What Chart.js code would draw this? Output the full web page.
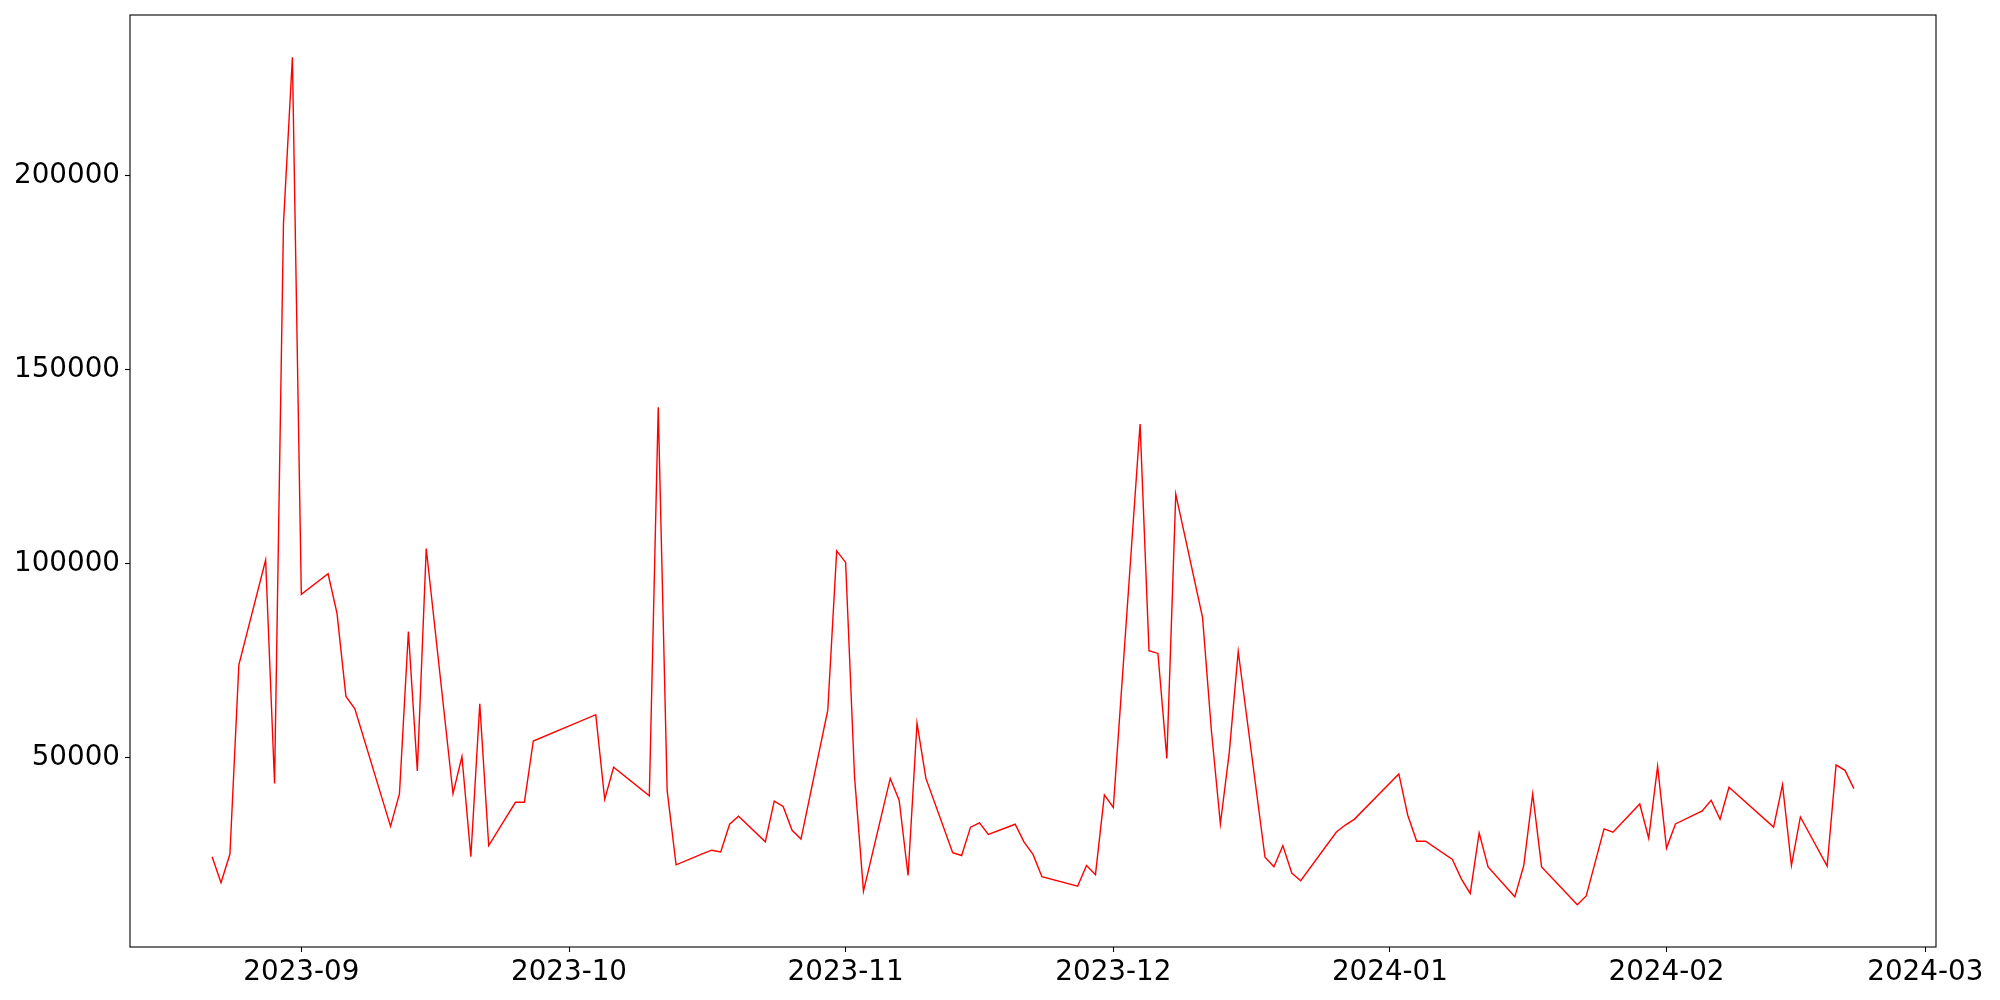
<!DOCTYPE html>
<html>
<head>
<meta charset="utf-8">
<script src="https://cdn.jsdelivr.net/npm/chart.js@4"></script>
<style>
    body { margin: 0; background: #fff; }
</style>
</head>
<body>
<canvas id="myChart" width="2000" height="1000"></canvas>
<script>
    // Data-----
    const dates = [
        '2023-08-22', '2023-08-23', '2023-08-24', '2023-08-25', '2023-08-28', '2023-08-29', '2023-08-30', '2023-08-31',
        '2023-09-01', '2023-09-04', '2023-09-05', '2023-09-06', '2023-09-07', '2023-09-11', '2023-09-12', '2023-09-13',
        '2023-09-14', '2023-09-15', '2023-09-18', '2023-09-19', '2023-09-20', '2023-09-21', '2023-09-22', '2023-09-25',
        '2023-09-26', '2023-09-27', '2023-10-04', '2023-10-05', '2023-10-06', '2023-10-10', '2023-10-11', '2023-10-12',
        '2023-10-13', '2023-10-16', '2023-10-17', '2023-10-18', '2023-10-19', '2023-10-20', '2023-10-23', '2023-10-24',
        '2023-10-25', '2023-10-26', '2023-10-27', '2023-10-30', '2023-10-31', '2023-11-01', '2023-11-02', '2023-11-03',
        '2023-11-06', '2023-11-07', '2023-11-08', '2023-11-09', '2023-11-10', '2023-11-13', '2023-11-14', '2023-11-15',
        '2023-11-16', '2023-11-17', '2023-11-20', '2023-11-21', '2023-11-22', '2023-11-23', '2023-11-27', '2023-11-28',
        '2023-11-29', '2023-11-30', '2023-12-01', '2023-12-04', '2023-12-05', '2023-12-06', '2023-12-07', '2023-12-08',
        '2023-12-11', '2023-12-12', '2023-12-13', '2023-12-14', '2023-12-15', '2023-12-18', '2023-12-19', '2023-12-20',
        '2023-12-21', '2023-12-22', '2023-12-26', '2023-12-27', '2023-12-28', '2024-01-02', '2024-01-03', '2024-01-04',
        '2024-01-05', '2024-01-08', '2024-01-09', '2024-01-10', '2024-01-11', '2024-01-12', '2024-01-15', '2024-01-16',
        '2024-01-17', '2024-01-18', '2024-01-22', '2024-01-23', '2024-01-25', '2024-01-26', '2024-01-29', '2024-01-30',
        '2024-01-31', '2024-02-01', '2024-02-02', '2024-02-05', '2024-02-06', '2024-02-07', '2024-02-08', '2024-02-13',
        '2024-02-14', '2024-02-15', '2024-02-16', '2024-02-19', '2024-02-20', '2024-02-21', '2024-02-22'
    ];

    const values = [
        24450, 17780, 25170, 73930, 100950, 43340, 187670, 230500,
        92100, 97400, 87200, 65800, 62600, 32300, 40700, 82500,
        46600, 103900, 40700, 50300, 24450, 63900, 27350, 38500,
        38500, 54300, 61070, 39250, 47530, 40150, 140300, 41500,
        22370, 25250, 26150, 25690, 32840, 34900, 28310, 38780,
        37420, 31290, 29030, 62250, 103300, 100330, 45080, 15590,
        44650, 39040, 19630, 58900, 44650, 25500, 24780, 32090,
        33190, 30210, 32840, 28230, 25060, 19330, 16870, 22200,
        19850, 40400, 37160, 136000, 77590, 76870, 49800, 117930,
        86150, 56820, 32910, 51420, 77400, 24340, 21900, 27330,
        20280, 18300, 30830, 32630, 34100, 45800, 35160, 28470,
        28470, 23750, 18760, 15000, 30600, 21850, 14130, 22210,
        40630, 21850, 12120, 14350, 31630, 30780, 38070, 29240,
        47760, 26690, 32910, 36280, 39020, 34130, 42370, 32110,
        43050, 22210, 34720, 22030, 48100, 46730, 42020
    ];

    const monthTicks = ['2023-09-01', '2023-10-01', '2023-11-01', '2023-12-01', '2024-01-01', '2024-02-01', '2024-03-01'];
    const tickLabels = ['2023-09', '2023-10', '2023-11', '2023-12', '2024-01', '2024-02', '2024-03'];
    const yTicks = [50000, 100000, 150000, 200000];
    // Data-----

    const toDay = (s) => {
        const p = s.split('-').map(Number);
        return Date.UTC(p[0], p[1] - 1, p[2]) / 86400000;
    };

    const points = dates.map((d, i) => ({x: toDay(d), y: values[i]}));

    // axis limits with a 5% margin, like the original
    const xs = points.map(p => p.x);
    const xMin0 = Math.min(...xs), xMax0 = Math.max(...xs);
    const yMin0 = Math.min(...values), yMax0 = Math.max(...values);
    const xPad = (xMax0 - xMin0) * 0.05;
    const yPad = (yMax0 - yMin0) * 0.05;

    const tickDays = monthTicks.map(toDay);
    const font = {family: 'DejaVu Sans', size: 27.78};

    const tickGrid = {
        display: true,
        drawOnChartArea: false,
        drawTicks: true,
        tickLength: 5,
        tickWidth: 1.1,
        tickColor: '#000'
    };

    // no extra room for the end labels, the layout padding decides
    const noPad = (scale) => {
        scale.paddingTop = 0;
        scale.paddingBottom = 0;
        scale.paddingLeft = 0;
        scale.paddingRight = 0;
    };

    // Frame-----
    const frame = {
        id: 'frame',
        afterDraw(chart) {
            const {ctx, chartArea: a} = chart;
            ctx.save();
            ctx.strokeStyle = '#000';
            ctx.lineWidth = 1.1;
            ctx.strokeRect(a.left, a.top, a.right - a.left, a.bottom - a.top);
            ctx.restore();
        }
    };
    // Frame-----

    // Config-----
    const config = {
        type: 'line',
        data: {
            datasets: [{
                borderColor: '#ff0000',
                borderWidth: 1.4,
                radius: 0,
                tension: 0,
                data: points
            }]
        },
        options: {
            responsive: false,
            animation: false,
            devicePixelRatio: 1,
            layout: {
                padding: {top: 15, right: 64, left: 0, bottom: 0}
            },
            plugins: {
                legend: false,
                tooltip: {enabled: false}
            },
            scales: {
                x: {
                    type: 'linear',
                    min: xMin0 - xPad,
                    max: xMax0 + xPad,
                    grid: tickGrid,
                    border: {display: false},
                    afterFit(scale) {
                        scale.height = 53;
                        noPad(scale);
                    },
                    afterBuildTicks(scale) {
                        scale.ticks = tickDays.map(v => ({value: v}));
                    },
                    ticks: {
                        autoSkip: false,
                        maxRotation: 0,
                        padding: 4,
                        color: '#000',
                        font: font,
                        callback(value) {
                            const i = tickDays.indexOf(value);
                            return i >= 0 ? tickLabels[i] : '';
                        }
                    }
                },
                y: {
                    type: 'linear',
                    min: yMin0 - yPad,
                    max: yMax0 + yPad,
                    grid: tickGrid,
                    border: {display: false},
                    afterFit(scale) {
                        scale.width = 130;
                        noPad(scale);
                    },
                    afterBuildTicks(scale) {
                        scale.ticks = yTicks.map(v => ({value: v}));
                    },
                    ticks: {
                        autoSkip: false,
                        padding: 5,
                        color: '#000',
                        font: font,
                        callback: (value) => String(value)
                    }
                }
            }
        },
        plugins: [frame]
    };
    // Config-----

    var myChart = new Chart(
        document.getElementById('myChart'),
        config
    );
</script>
</body>
</html>
